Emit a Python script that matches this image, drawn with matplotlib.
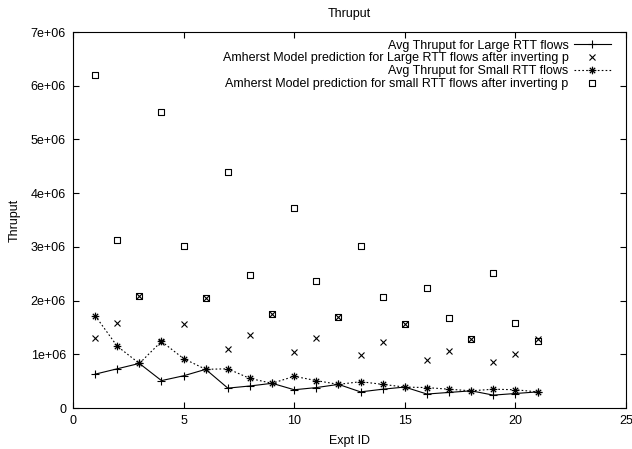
#! /usr/bin/env python3
import numpy as np
import matplotlib
matplotlib.use('Agg')
import matplotlib.pyplot as plt
from matplotlib.path import Path

plt.rcParams['font.family'] = ['Liberation Sans', 'DejaVu Sans']
plt.rcParams['font.size'] = 9

expt = list(range(1, 22))
large_thru = [0.63e6, 0.73e6, 0.83e6, 0.51e6, 0.60e6, 0.72e6, 0.37e6,
              0.41e6, 0.46e6, 0.34e6, 0.38e6, 0.44e6, 0.30e6, 0.35e6,
              0.39e6, 0.26e6, 0.29e6, 0.32e6, 0.24e6, 0.27e6, 0.30e6]
large_model = [1.30e6, 1.59e6, 2.09e6, 1.23e6, 1.56e6, 2.04e6, 1.09e6,
               1.35e6, 1.75e6, 1.05e6, 1.30e6, 1.69e6, 0.99e6, 1.23e6,
               1.56e6, 0.89e6, 1.06e6, 1.29e6, 0.86e6, 1.01e6, 1.29e6]
small_thru = [1.72e6, 1.15e6, 0.83e6, 1.24e6, 0.92e6, 0.72e6, 0.73e6,
              0.55e6, 0.46e6, 0.59e6, 0.51e6, 0.44e6, 0.49e6, 0.44e6,
              0.39e6, 0.38e6, 0.35e6, 0.32e6, 0.35e6, 0.34e6, 0.30e6]
small_model = [6.20e6, 3.13e6, 2.09e6, 5.52e6, 3.02e6, 2.04e6, 4.39e6,
               2.47e6, 1.75e6, 3.72e6, 2.37e6, 1.69e6, 3.02e6, 2.07e6,
               1.56e6, 2.23e6, 1.67e6, 1.29e6, 2.52e6, 1.59e6, 1.25e6]

labels = ['Avg Thruput for Large RTT flows',
          'Amherst Model prediction for Large RTT flows after inverting p',
          'Avg Thruput for Small RTT flows',
          'Amherst Model prediction for small RTT flows after inverting p']

# gnuplot-like markers: star (+ and x) and square with a dot
M, L = Path.MOVETO, Path.LINETO
star = Path([(-1, 0), (1, 0), (0, -1), (0, 1),
             (-0.7, -0.7), (0.7, 0.7), (-0.7, 0.7), (0.7, -0.7)],
            [M, L, M, L, M, L, M, L])
dotsq = Path([(-1, -1), (1, -1), (1, 1), (-1, 1), (-1, -1),
              (-0.12, -0.12), (0.12, -0.12), (0.12, 0.12), (-0.12, 0.12), (-0.12, -0.12)],
             [M, L, L, L, L, M, L, L, L, L])

fig = plt.figure(figsize=(6.32, 4.49), dpi=100)
ax = fig.add_axes([0.1155, 0.0913, 0.875, 0.8374])

ax.plot(expt, large_thru, color='black', lw=0.8, marker='+', ms=5.5, mew=0.8,
        label=labels[0])
ax.plot(expt, large_model, color='black', lw=0, marker='x', ms=4.5, mew=0.8,
        label=labels[1])
ax.plot(expt, small_thru, color='black', lw=0.8, ls=(0, (1.5, 2)), marker=star,
        ms=5.5, mew=0.9, mfc='none', label=labels[2])
ax.plot(expt, small_model, color='black', lw=0, marker=dotsq, ms=4.5, mew=0.8,
        mfc='none', label=labels[3])

ax.set_xlim(0, 25)
ax.set_ylim(0, 7e6)
ax.set_xticks(np.arange(0, 26, 5))
ax.set_yticks(np.arange(0, 7.1e6, 1e6))
ax.set_yticklabels(['0'] + ['%de+06' % i for i in range(1, 8)])
ax.tick_params(direction='in', top=True, right=True, length=4.5, width=0.8, pad=5)
for s in ax.spines.values():
    s.set_linewidth(0.8)

ax.set_title('Thruput', fontsize=9, pad=10.5)
ax.set_xlabel('Expt ID', labelpad=6)
ax.set_ylabel('Thruput', labelpad=7.5)

ax.legend(loc='upper right', bbox_to_anchor=(0.982, 0.993), frameon=False,
          markerfirst=False, handlelength=3, labelspacing=0.06,
          borderaxespad=0, handletextpad=0.4, fontsize=9)

fig.savefig('out.png', dpi=100)
